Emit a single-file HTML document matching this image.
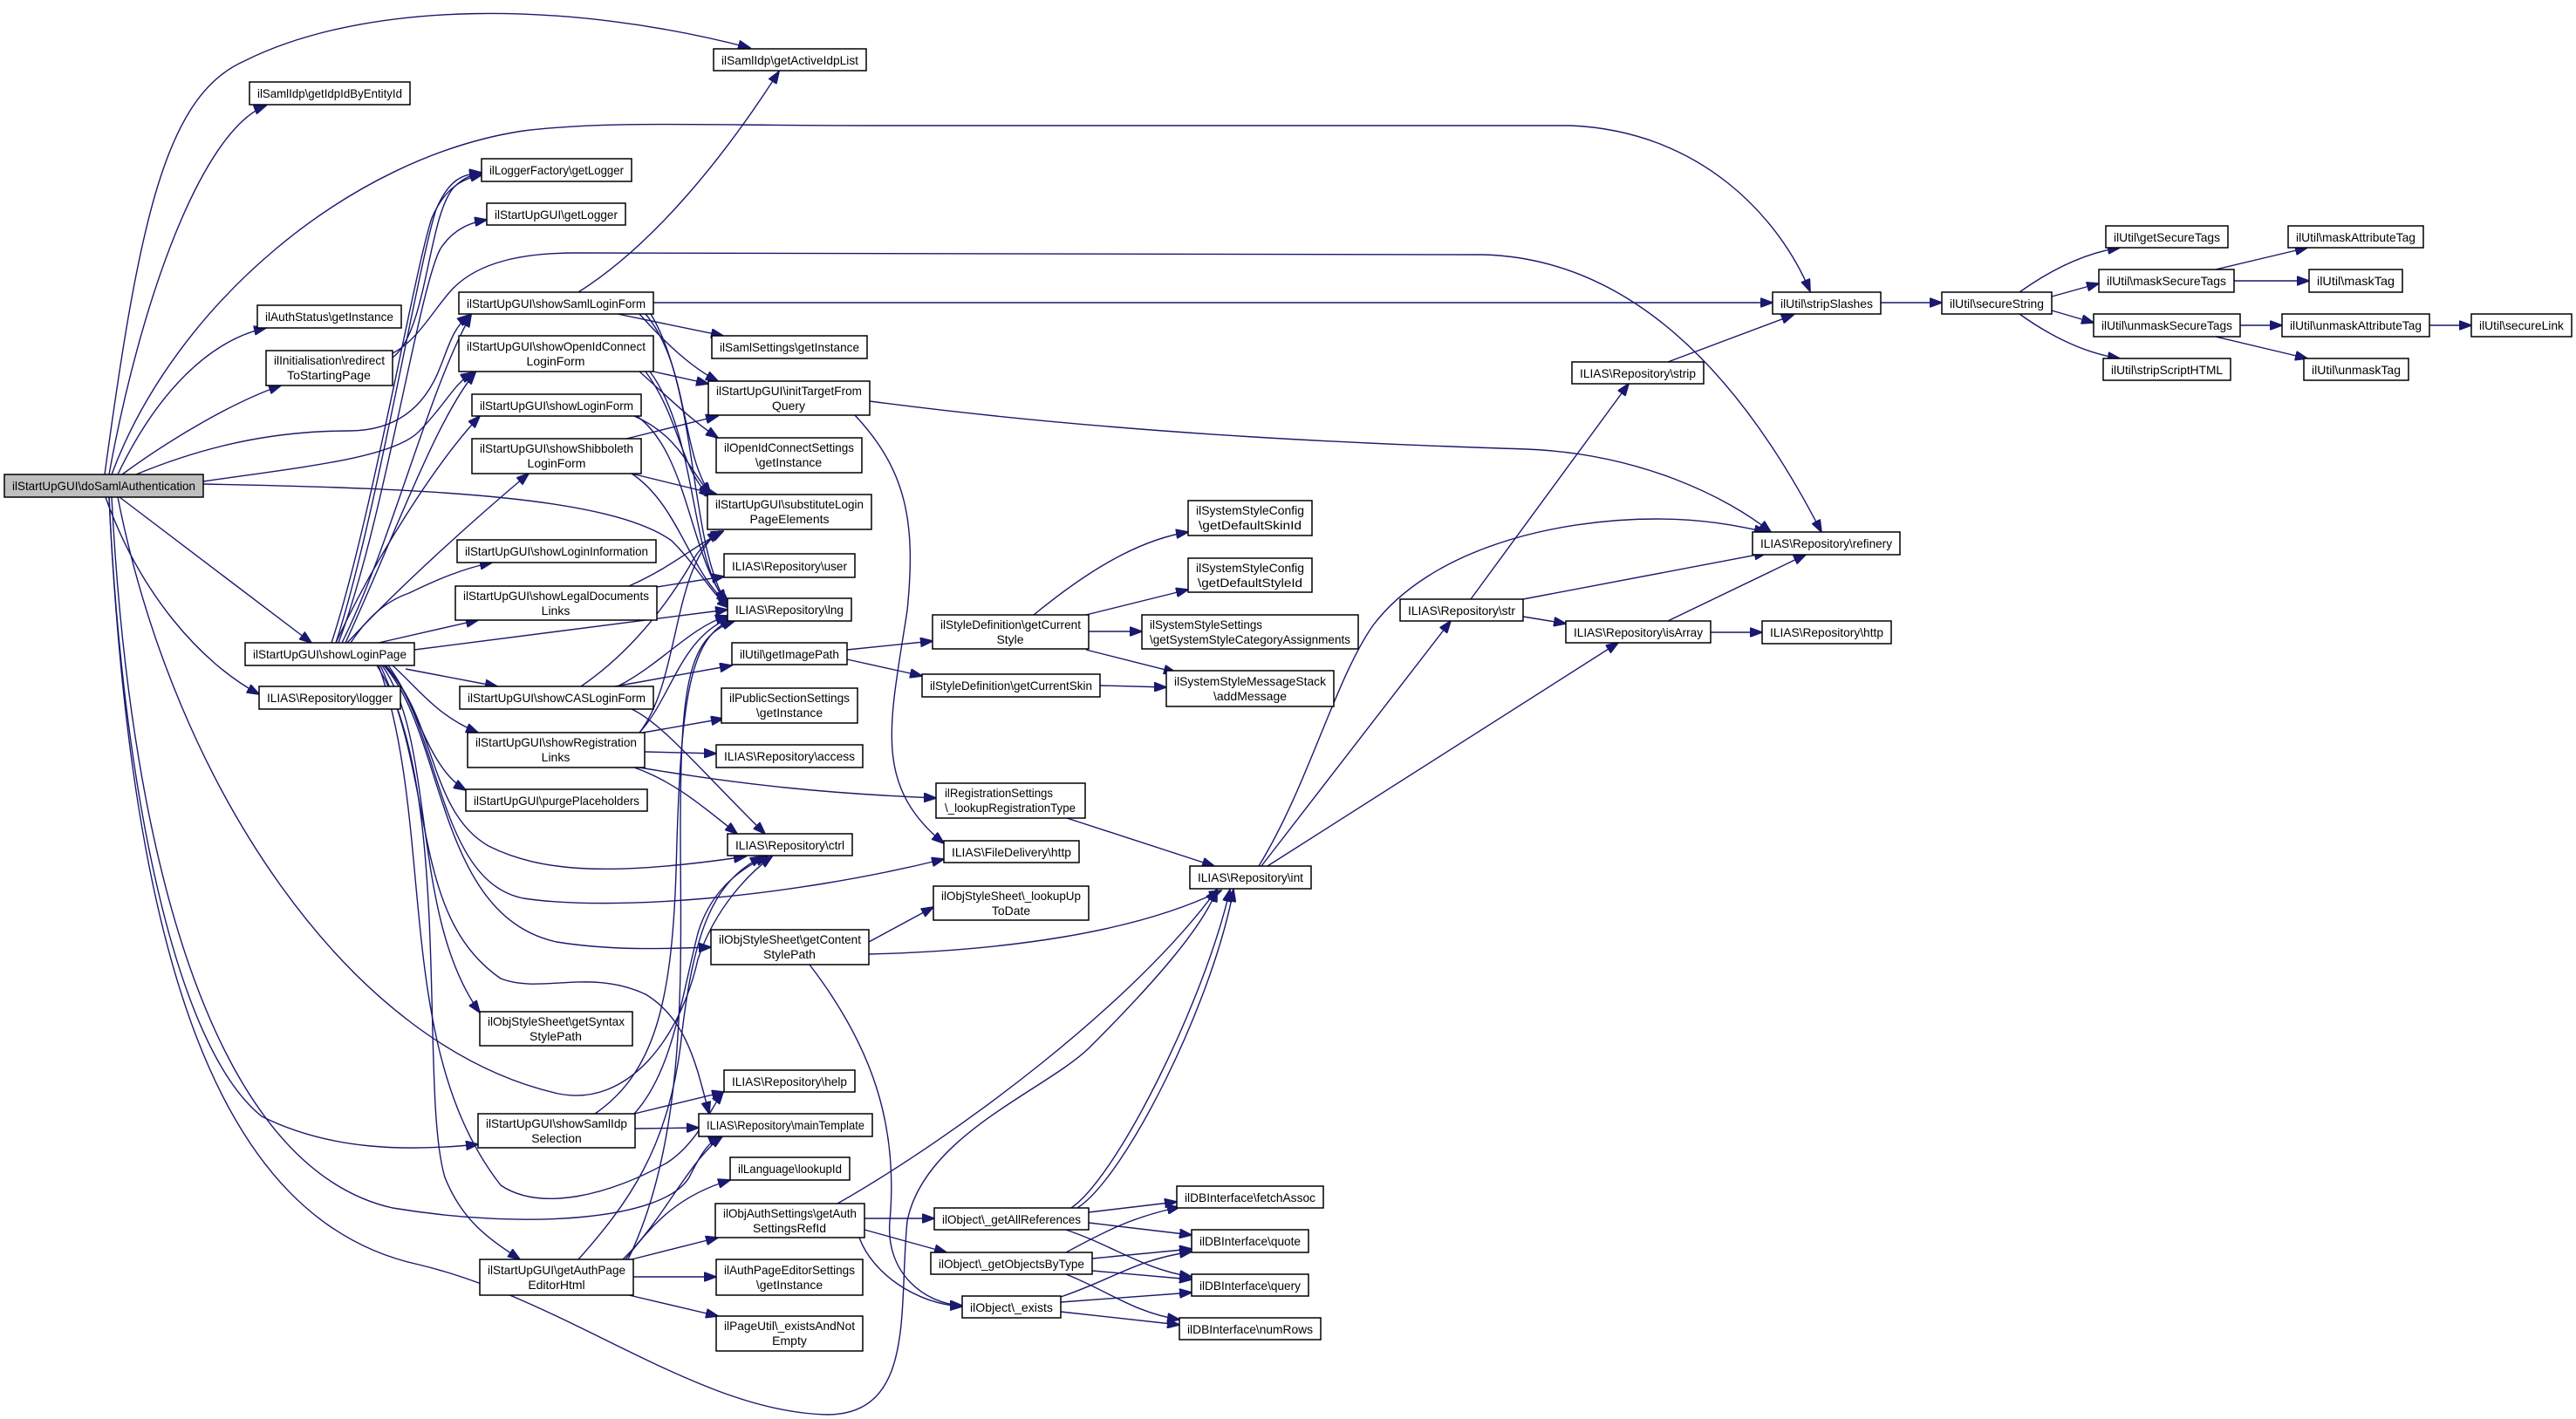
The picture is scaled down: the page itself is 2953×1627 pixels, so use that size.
<!DOCTYPE html>
<html><head><meta charset="utf-8"><style>
html,body{margin:0;padding:0;background:#fff;}
svg{display:block;}
text{font-family:"Liberation Sans",Arial,sans-serif;font-size:14px;fill:#000;}
.n{fill:#fff;stroke:#000;stroke-width:1.5;}
.g{fill:#bfbfbf;stroke:#000;stroke-width:1.5;}
.e{fill:none;stroke:#191970;stroke-width:1.4;marker-end:url(#a);}
</style></head><body>
<svg width="2953" height="1627" viewBox="0 0 2953 1627" xmlns="http://www.w3.org/2000/svg">
<defs><marker id="a" markerUnits="userSpaceOnUse" markerWidth="15" markerHeight="11" refX="14" refY="5.5" orient="auto"><path d="M0,0 L15,5.5 L0,11 z" fill="#191970" stroke="#191970"/></marker></defs>
<g>
<!-- doSaml edges -->
<path class="e" d="M120,544 C160,250 190,110 280,70 C420,0 650,0 860,55"/>
<path class="e" d="M125,544 C160,350 230,150 305,121"/>
<path class="e" d="M128,544 C200,350 400,180 600,150 C700,138 800,144 1000,144 L1800,144 C1950,150 2040,250 2075,334"/>
<path class="e" d="M135,544 C180,450 240,390 305,376"/>
<path class="e" d="M140,544 C200,500 270,460 322,442"/>
<path class="e" d="M156,544 C250,505 330,494 400,494 C460,494 490,460 505,420 C515,395 520,375 538,361"/>
<path class="e" d="M233,552 C350,535 450,525 480,495 C510,465 520,440 542,427"/>
<path class="e" d="M233,555 C500,560 700,570 770,620 C800,650 815,680 836,697"/>
<path class="e" d="M137,570 L357,737"/>
<path class="e" d="M121,570 C160,680 230,760 297,796"/>
<path class="e" d="M125,570 C140,900 200,1200 300,1280 C380,1320 470,1320 548,1312"/>
<path class="e" d="M128,570 C150,1000 250,1340 450,1385 C600,1410 760,1400 790,1350 C800,1330 810,1310 826,1303"/>
<path class="e" d="M125,570 C150,1100 250,1400 480,1450 C650,1490 800,1620 950,1622 C1050,1620 1030,1500 1040,1400 C1060,1300 1200,1250 1250,1200 C1330,1120 1380,1060 1395,1020"/>
<path class="e" d="M135,570 C200,900 400,1200 640,1254 C720,1270 780,1190 800,1100 C820,1040 860,1000 885,982"/>
<!-- redirect -->
<path class="e" d="M450,410 C490,380 490,250 520,215 C530,205 540,200 552,198"/>
<path class="e" d="M450,405 C480,390 500,350 520,330 C550,300 600,290 660,290 L1700,292 C1850,296 1980,400 2088,610"/>
<!-- showLoginPage -->
<path class="e" d="M385,737 C430,600 480,300 500,240 C515,205 530,200 552,198"/>
<path class="e" d="M380,737 C425,600 475,310 495,250 C510,215 530,205 553,200"/>
<path class="e" d="M388,737 C440,600 480,330 505,285 C520,262 540,255 558,252"/>
<path class="e" d="M392,737 C450,620 490,450 540,361"/>
<path class="e" d="M396,737 C450,620 500,480 545,427"/>
<path class="e" d="M385,737 C430,640 500,530 550,477"/>
<path class="e" d="M398,737 C460,670 550,590 606,543"/>
<path class="e" d="M402,737 C420,710 440,690 469,680 C500,665 530,652 564,645"/>
<path class="e" d="M434,737 L548,711"/>
<path class="e" d="M475,745 L834,699"/>
<path class="e" d="M465,767 L570,787"/>
<path class="e" d="M450,763 C480,790 500,820 548,840"/>
<path class="e" d="M445,763 C480,810 490,880 534,906"/>
<path class="e" d="M440,763 C500,820 490,930 560,970 C620,1000 700,1005 855,982"/>
<path class="e" d="M442,763 C505,830 500,1010 600,1030 C700,1045 900,1030 1082,985"/>
<path class="e" d="M440,763 C510,840 500,1050 638,1080 C700,1090 760,1088 815,1086"/>
<path class="e" d="M438,763 C500,850 470,1050 550,1161"/>
<path class="e" d="M436,763 C500,900 470,1050 574,1122 C620,1140 676,1110 740,1140 C790,1170 800,1230 813,1277"/>
<path class="e" d="M434,763 C500,950 450,1200 574,1359 C620,1390 700,1370 765,1333 C800,1310 815,1270 829,1252"/>
<path class="e" d="M432,763 C520,900 480,1250 510,1350 C530,1400 560,1420 596,1444"/>
<!-- showSamlLoginForm -->
<path class="e" d="M663,335 C750,280 830,180 893,82"/>
<path class="e" d="M749,347 L2032,347"/>
<path class="e" d="M708,360 L829,385"/>
<path class="e" d="M733,360 C760,390 790,420 823,437"/>
<path class="e" d="M740,360 C790,420 780,520 815,567"/>
<path class="e" d="M746,360 C800,450 790,620 832,690"/>
<!-- showOpenIdConnect -->
<path class="e" d="M749,426 L812,440"/>
<path class="e" d="M733,426 C760,450 790,480 823,502"/>
<path class="e" d="M740,426 C780,480 780,540 815,570"/>
<path class="e" d="M745,426 C800,500 790,640 834,693"/>
<!-- showLoginForm / shibboleth -->
<path class="e" d="M727,477 C780,500 790,540 815,567"/>
<path class="e" d="M730,477 C790,520 790,640 836,695"/>
<path class="e" d="M718,503 L823,477"/>
<path class="e" d="M724,543 L822,567"/>
<path class="e" d="M724,543 C780,580 790,660 840,697"/>
<!-- legal docs -->
<path class="e" d="M753,673 L830,661"/>
<path class="e" d="M721,672 C770,650 790,630 829,609"/>
<!-- CAS -->
<path class="e" d="M666,787 C720,750 760,700 790,650 C800,630 815,615 829,609"/>
<path class="e" d="M708,787 C760,760 790,720 834,706"/>
<path class="e" d="M705,787 L839,763"/>
<path class="e" d="M724,813 C760,830 800,880 877,956"/>
<!-- registration -->
<path class="e" d="M737,840 L829,824"/>
<path class="e" d="M739,862 L821,864"/>
<path class="e" d="M727,879 C850,900 950,910 1073,915"/>
<path class="e" d="M727,880 C770,895 800,920 845,956"/>
<path class="e" d="M733,840 C770,800 780,730 838,708"/>
<path class="e" d="M733,840 C780,780 770,650 825,609"/>
<!-- samlIdp selection -->
<path class="e" d="M727,1277 L830,1252"/>
<path class="e" d="M728,1294 L801,1293"/>
<path class="e" d="M727,1277 C770,1230 780,1150 800,1070 C815,1020 850,995 880,982"/>
<path class="e" d="M682,1277 C750,1230 770,1150 775,1000 C780,800 790,730 840,710"/>
<!-- getAuthPageEditorHtml -->
<path class="e" d="M717,1444 C750,1400 780,1370 837,1353"/>
<path class="e" d="M724,1444 L823,1419"/>
<path class="e" d="M726,1464 L821,1464"/>
<path class="e" d="M721,1485 L823,1509"/>
<path class="e" d="M714,1444 C760,1400 790,1330 828,1303"/>
<path class="e" d="M663,1444 C720,1380 765,1317 780,1200 C795,1060 820,1010 874,982"/>
<path class="e" d="M720,1444 C790,1300 780,1100 780,950 C780,780 790,730 842,712"/>
<!-- auth settings -->
<path class="e" d="M960,1380 C1100,1300 1300,1150 1395,1020"/>
<path class="e" d="M991,1397 L1071,1397"/>
<path class="e" d="M991,1410 L1085,1436"/>
<path class="e" d="M985,1419 C1000,1460 1050,1495 1103,1498"/>
<path class="e" d="M1228,1385 C1280,1350 1380,1150 1410,1020"/>
<path class="e" d="M1235,1385 C1290,1350 1390,1150 1414,1020"/>
<!-- db -->
<path class="e" d="M1248,1390 L1349,1378"/>
<path class="e" d="M1248,1402 L1366,1416"/>
<path class="e" d="M1222,1410 C1280,1430 1310,1455 1366,1464"/>
<path class="e" d="M1222,1436 C1270,1410 1300,1395 1352,1384"/>
<path class="e" d="M1252,1443 L1366,1432"/>
<path class="e" d="M1252,1457 L1366,1467"/>
<path class="e" d="M1222,1461 C1270,1480 1300,1505 1352,1513"/>
<path class="e" d="M1216,1487 C1280,1465 1300,1445 1366,1435"/>
<path class="e" d="M1216,1493 L1366,1482"/>
<path class="e" d="M1216,1504 L1352,1519"/>
<!-- content style path -->
<path class="e" d="M996,1080 L1070,1040"/>
<path class="e" d="M996,1094 C1150,1090 1300,1070 1400,1021"/>
<path class="e" d="M928,1106 C1000,1200 1030,1290 1020,1400 C1015,1460 1060,1495 1103,1497"/>
<path class="e" d="M980,476 C1040,540 1050,600 1040,700 C1020,830 1000,900 1082,967"/>
<path class="e" d="M997,460 C1300,500 1600,510 1750,515 C1880,520 1980,570 2030,610"/>
<!-- style -->
<path class="e" d="M971,745 L1069,735"/>
<path class="e" d="M971,756 L1057,775"/>
<path class="e" d="M1185,705 C1240,660 1300,620 1362,610"/>
<path class="e" d="M1245,705 L1362,676"/>
<path class="e" d="M1248,724 L1309,724"/>
<path class="e" d="M1245,745 L1348,771"/>
<path class="e" d="M1261,786 L1337,788"/>
<path class="e" d="M1223,938 L1392,993"/>
<!-- int / str -->
<path class="e" d="M1446,993 L1663,712"/>
<path class="e" d="M1453,993 L1855,737"/>
<path class="e" d="M1443,993 C1500,900 1530,780 1574,717 C1640,630 1780,595 1900,595 C1960,595 2000,605 2025,610"/>
<path class="e" d="M1686,687 L1867,440"/>
<path class="e" d="M1746,687 L2025,634"/>
<path class="e" d="M1746,707 L1795,715"/>
<path class="e" d="M1912,712 L2070,636"/>
<path class="e" d="M1961,725 L2020,725"/>
<path class="e" d="M1912,415 L2056,361"/>
<!-- util -->
<path class="e" d="M2156,347 L2226,347"/>
<path class="e" d="M2315,335 C2350,310 2390,290 2430,284"/>
<path class="e" d="M2352,340 L2406,325"/>
<path class="e" d="M2352,356 L2400,370"/>
<path class="e" d="M2315,360 C2350,385 2390,405 2430,411"/>
<path class="e" d="M2540,309 L2645,284"/>
<path class="e" d="M2561,322 L2647,322"/>
<path class="e" d="M2568,373 L2616,373"/>
<path class="e" d="M2540,386 L2645,411"/>
<path class="e" d="M2785,373 L2833,373"/>
</g>
<g>
<rect class="g" x="5" y="544" width="228" height="26"/><text x="14" y="562" textLength="210" lengthAdjust="spacingAndGlyphs">ilStartUpGUI\doSamlAuthentication</text>
<rect class="n" x="286" y="94" width="184" height="26"/><text x="295" y="112" textLength="166" lengthAdjust="spacingAndGlyphs">ilSamlIdp\getIdpIdByEntityId</text>
<rect class="n" x="818" y="56" width="175" height="25"/><text x="827" y="74" textLength="157" lengthAdjust="spacingAndGlyphs">ilSamlIdp\getActiveIdpList</text>
<rect class="n" x="295" y="350" width="165" height="26"/><text x="304" y="368" textLength="147" lengthAdjust="spacingAndGlyphs">ilAuthStatus\getInstance</text>
<rect class="n" x="305" y="402" width="145" height="40"/><text x="314" y="418" textLength="127" lengthAdjust="spacingAndGlyphs">ilInitialisation\redirect</text><text x="377" y="435" text-anchor="middle">ToStartingPage</text>
<rect class="n" x="552" y="182" width="172" height="26"/><text x="561" y="200" textLength="154" lengthAdjust="spacingAndGlyphs">ilLoggerFactory\getLogger</text>
<rect class="n" x="558" y="233" width="159" height="25"/><text x="567" y="251" textLength="141" lengthAdjust="spacingAndGlyphs">ilStartUpGUI\getLogger</text>
<rect class="n" x="526" y="335" width="223" height="25"/><text x="535" y="353" textLength="205" lengthAdjust="spacingAndGlyphs">ilStartUpGUI\showSamlLoginForm</text>
<rect class="n" x="526" y="385" width="223" height="41"/><text x="535" y="402" textLength="205" lengthAdjust="spacingAndGlyphs">ilStartUpGUI\showOpenIdConnect</text><text x="637" y="419" text-anchor="middle">LoginForm</text>
<rect class="n" x="541" y="452" width="194" height="25"/><text x="550" y="470" textLength="176" lengthAdjust="spacingAndGlyphs">ilStartUpGUI\showLoginForm</text>
<rect class="n" x="541" y="503" width="194" height="40"/><text x="550" y="519" textLength="176" lengthAdjust="spacingAndGlyphs">ilStartUpGUI\showShibboleth</text><text x="638" y="536" text-anchor="middle">LoginForm</text>
<rect class="n" x="816" y="385" width="178" height="26"/><text x="825" y="403" textLength="160" lengthAdjust="spacingAndGlyphs">ilSamlSettings\getInstance</text>
<rect class="n" x="812" y="437" width="185" height="39"/><text x="821" y="453" textLength="167" lengthAdjust="spacingAndGlyphs">ilStartUpGUI\initTargetFrom</text><text x="904" y="470" text-anchor="middle">Query</text>
<rect class="n" x="821" y="502" width="167" height="40"/><text x="830" y="518" textLength="149" lengthAdjust="spacingAndGlyphs">ilOpenIdConnectSettings</text><text x="904" y="535" text-anchor="middle">\getInstance</text>
<rect class="n" x="811" y="567" width="188" height="40"/><text x="820" y="583" textLength="170" lengthAdjust="spacingAndGlyphs">ilStartUpGUI\substituteLogin</text><text x="905" y="600" text-anchor="middle">PageElements</text>
<rect class="n" x="281" y="737" width="194" height="26"/><text x="290" y="755" textLength="176" lengthAdjust="spacingAndGlyphs">ilStartUpGUI\showLoginPage</text>
<rect class="n" x="297" y="787" width="162" height="26"/><text x="306" y="805" textLength="144" lengthAdjust="spacingAndGlyphs">ILIAS\Repository\logger</text>
<rect class="n" x="524" y="619" width="228" height="26"/><text x="533" y="637" textLength="210" lengthAdjust="spacingAndGlyphs">ilStartUpGUI\showLoginInformation</text>
<rect class="n" x="522" y="672" width="231" height="39"/><text x="531" y="688" textLength="213" lengthAdjust="spacingAndGlyphs">ilStartUpGUI\showLegalDocuments</text><text x="637" y="705" text-anchor="middle">Links</text>
<rect class="n" x="830" y="635" width="150" height="27"/><text x="839" y="654" textLength="132" lengthAdjust="spacingAndGlyphs">ILIAS\Repository\user</text>
<rect class="n" x="834" y="686" width="142" height="26"/><text x="843" y="704" textLength="124" lengthAdjust="spacingAndGlyphs">ILIAS\Repository\lng</text>
<rect class="n" x="839" y="737" width="132" height="25"/><text x="848" y="755" textLength="114" lengthAdjust="spacingAndGlyphs">ilUtil\getImagePath</text>
<rect class="n" x="527" y="787" width="222" height="26"/><text x="536" y="805" textLength="204" lengthAdjust="spacingAndGlyphs">ilStartUpGUI\showCASLoginForm</text>
<rect class="n" x="827" y="789" width="156" height="40"/><text x="836" y="805" textLength="138" lengthAdjust="spacingAndGlyphs">ilPublicSectionSettings</text><text x="905" y="822" text-anchor="middle">\getInstance</text>
<rect class="n" x="536" y="840" width="203" height="40"/><text x="545" y="856" textLength="185" lengthAdjust="spacingAndGlyphs">ilStartUpGUI\showRegistration</text><text x="637" y="873" text-anchor="middle">Links</text>
<rect class="n" x="821" y="854" width="168" height="26"/><text x="830" y="872" textLength="150" lengthAdjust="spacingAndGlyphs">ILIAS\Repository\access</text>
<rect class="n" x="534" y="905" width="208" height="25"/><text x="543" y="923" textLength="190" lengthAdjust="spacingAndGlyphs">ilStartUpGUI\purgePlaceholders</text>
<rect class="n" x="834" y="956" width="143" height="25"/><text x="843" y="974" textLength="125" lengthAdjust="spacingAndGlyphs">ILIAS\Repository\ctrl</text>
<rect class="n" x="815" y="1066" width="181" height="40"/><text x="824" y="1082" textLength="163" lengthAdjust="spacingAndGlyphs">ilObjStyleSheet\getContent</text><text x="905" y="1099" text-anchor="middle">StylePath</text>
<rect class="n" x="550" y="1160" width="175" height="39"/><text x="559" y="1176" textLength="157" lengthAdjust="spacingAndGlyphs">ilObjStyleSheet\getSyntax</text><text x="637" y="1193" text-anchor="middle">StylePath</text>
<rect class="n" x="830" y="1227" width="150" height="25"/><text x="839" y="1245" textLength="132" lengthAdjust="spacingAndGlyphs">ILIAS\Repository\help</text>
<rect class="n" x="801" y="1277" width="199" height="26"/><text x="810" y="1295" textLength="181" lengthAdjust="spacingAndGlyphs">ILIAS\Repository\mainTemplate</text>
<rect class="n" x="548" y="1277" width="180" height="39"/><text x="557" y="1293" textLength="162" lengthAdjust="spacingAndGlyphs">ilStartUpGUI\showSamlIdp</text><text x="638" y="1310" text-anchor="middle">Selection</text>
<rect class="n" x="837" y="1327" width="137" height="26"/><text x="846" y="1345" textLength="119" lengthAdjust="spacingAndGlyphs">ilLanguage\lookupId</text>
<rect class="n" x="820" y="1380" width="171" height="39"/><text x="829" y="1396" textLength="153" lengthAdjust="spacingAndGlyphs">ilObjAuthSettings\getAuth</text><text x="905" y="1413" text-anchor="middle">SettingsRefId</text>
<rect class="n" x="550" y="1444" width="176" height="41"/><text x="559" y="1461" textLength="158" lengthAdjust="spacingAndGlyphs">ilStartUpGUI\getAuthPage</text><text x="638" y="1478" text-anchor="middle">EditorHtml</text>
<rect class="n" x="821" y="1444" width="168" height="41"/><text x="830" y="1461" textLength="150" lengthAdjust="spacingAndGlyphs">ilAuthPageEditorSettings</text><text x="905" y="1478" text-anchor="middle">\getInstance</text>
<rect class="n" x="821" y="1509" width="168" height="40"/><text x="830" y="1525" textLength="150" lengthAdjust="spacingAndGlyphs">ilPageUtil\_existsAndNot</text><text x="905" y="1542" text-anchor="middle">Empty</text>
<rect class="n" x="1069" y="705" width="179" height="39"/><text x="1078" y="721" textLength="161" lengthAdjust="spacingAndGlyphs">ilStyleDefinition\getCurrent</text><text x="1158" y="738" text-anchor="middle">Style</text>
<rect class="n" x="1057" y="773" width="204" height="26"/><text x="1066" y="791" textLength="186" lengthAdjust="spacingAndGlyphs">ilStyleDefinition\getCurrentSkin</text>
<rect class="n" x="1362" y="574" width="142" height="40"/><text x="1371" y="590" textLength="124" lengthAdjust="spacingAndGlyphs">ilSystemStyleConfig</text><text x="1433" y="607" text-anchor="middle" textLength="118" lengthAdjust="spacingAndGlyphs">\getDefaultSkinId</text>
<rect class="n" x="1362" y="640" width="142" height="39"/><text x="1371" y="656" textLength="124" lengthAdjust="spacingAndGlyphs">ilSystemStyleConfig</text><text x="1433" y="673" text-anchor="middle" textLength="120" lengthAdjust="spacingAndGlyphs">\getDefaultStyleId</text>
<rect class="n" x="1309" y="705" width="248" height="39"/><text x="1318" y="721" textLength="129" lengthAdjust="spacingAndGlyphs">ilSystemStyleSettings</text><text x="1318" y="738" textLength="230" lengthAdjust="spacingAndGlyphs">\getSystemStyleCategoryAssignments</text>
<rect class="n" x="1337" y="769" width="192" height="41"/><text x="1346" y="786" textLength="174" lengthAdjust="spacingAndGlyphs">ilSystemStyleMessageStack</text><text x="1433" y="803" text-anchor="middle">\addMessage</text>
<rect class="n" x="1073" y="898" width="171" height="40"/><text x="1083" y="914" textLength="124" lengthAdjust="spacingAndGlyphs">ilRegistrationSettings</text><text x="1083" y="931" textLength="150" lengthAdjust="spacingAndGlyphs">\_lookupRegistrationType</text>
<rect class="n" x="1082" y="964" width="155" height="25"/><text x="1091" y="982" textLength="137" lengthAdjust="spacingAndGlyphs">ILIAS\FileDelivery\http</text>
<rect class="n" x="1070" y="1016" width="178" height="39"/><text x="1079" y="1032" textLength="160" lengthAdjust="spacingAndGlyphs">ilObjStyleSheet\_lookupUp</text><text x="1159" y="1049" text-anchor="middle">ToDate</text>
<rect class="n" x="1364" y="993" width="139" height="26"/><text x="1373" y="1011" textLength="121" lengthAdjust="spacingAndGlyphs">ILIAS\Repository\int</text>
<rect class="n" x="1605" y="687" width="141" height="25"/><text x="1614" y="705" textLength="123" lengthAdjust="spacingAndGlyphs">ILIAS\Repository\str</text>
<rect class="n" x="1795" y="712" width="166" height="25"/><text x="1804" y="730" textLength="148" lengthAdjust="spacingAndGlyphs">ILIAS\Repository\isArray</text>
<rect class="n" x="1802" y="415" width="151" height="25"/><text x="1811" y="433" textLength="133" lengthAdjust="spacingAndGlyphs">ILIAS\Repository\strip</text>
<rect class="n" x="1071" y="1385" width="177" height="25"/><text x="1080" y="1403" textLength="159" lengthAdjust="spacingAndGlyphs">ilObject\_getAllReferences</text>
<rect class="n" x="1067" y="1436" width="185" height="25"/><text x="1076" y="1454" textLength="167" lengthAdjust="spacingAndGlyphs">ilObject\_getObjectsByType</text>
<rect class="n" x="1103" y="1486" width="113" height="25"/><text x="1112" y="1504" textLength="95" lengthAdjust="spacingAndGlyphs">ilObject\_exists</text>
<rect class="n" x="1349" y="1360" width="168" height="25"/><text x="1358" y="1378" textLength="150" lengthAdjust="spacingAndGlyphs">ilDBInterface\fetchAssoc</text>
<rect class="n" x="1366" y="1410" width="134" height="26"/><text x="1375" y="1428" textLength="116" lengthAdjust="spacingAndGlyphs">ilDBInterface\quote</text>
<rect class="n" x="1366" y="1461" width="134" height="25"/><text x="1375" y="1479" textLength="116" lengthAdjust="spacingAndGlyphs">ilDBInterface\query</text>
<rect class="n" x="1352" y="1511" width="162" height="25"/><text x="1361" y="1529" textLength="144" lengthAdjust="spacingAndGlyphs">ilDBInterface\numRows</text>
<rect class="n" x="2032" y="335" width="124" height="25"/><text x="2041" y="353" textLength="106" lengthAdjust="spacingAndGlyphs">ilUtil\stripSlashes</text>
<rect class="n" x="2009" y="610" width="169" height="26"/><text x="2018" y="628" textLength="151" lengthAdjust="spacingAndGlyphs">ILIAS\Repository\refinery</text>
<rect class="n" x="2020" y="712" width="148" height="26"/><text x="2029" y="730" textLength="130" lengthAdjust="spacingAndGlyphs">ILIAS\Repository\http</text>
<rect class="n" x="2226" y="335" width="126" height="25"/><text x="2235" y="353" textLength="108" lengthAdjust="spacingAndGlyphs">ilUtil\secureString</text>
<rect class="n" x="2414" y="259" width="140" height="25"/><text x="2423" y="277" textLength="122" lengthAdjust="spacingAndGlyphs">ilUtil\getSecureTags</text>
<rect class="n" x="2406" y="309" width="155" height="26"/><text x="2415" y="327" textLength="137" lengthAdjust="spacingAndGlyphs">ilUtil\maskSecureTags</text>
<rect class="n" x="2400" y="360" width="168" height="26"/><text x="2409" y="378" textLength="150" lengthAdjust="spacingAndGlyphs">ilUtil\unmaskSecureTags</text>
<rect class="n" x="2411" y="411" width="146" height="25"/><text x="2420" y="429" textLength="128" lengthAdjust="spacingAndGlyphs">ilUtil\stripScriptHTML</text>
<rect class="n" x="2623" y="259" width="155" height="25"/><text x="2632" y="277" textLength="137" lengthAdjust="spacingAndGlyphs">ilUtil\maskAttributeTag</text>
<rect class="n" x="2647" y="309" width="107" height="26"/><text x="2656" y="327" textLength="89" lengthAdjust="spacingAndGlyphs">ilUtil\maskTag</text>
<rect class="n" x="2616" y="360" width="169" height="26"/><text x="2625" y="378" textLength="151" lengthAdjust="spacingAndGlyphs">ilUtil\unmaskAttributeTag</text>
<rect class="n" x="2641" y="411" width="120" height="25"/><text x="2650" y="429" textLength="102" lengthAdjust="spacingAndGlyphs">ilUtil\unmaskTag</text>
<rect class="n" x="2833" y="360" width="115" height="26"/><text x="2842" y="378" textLength="97" lengthAdjust="spacingAndGlyphs">ilUtil\secureLink</text>
</g>
</svg>
</body></html>
